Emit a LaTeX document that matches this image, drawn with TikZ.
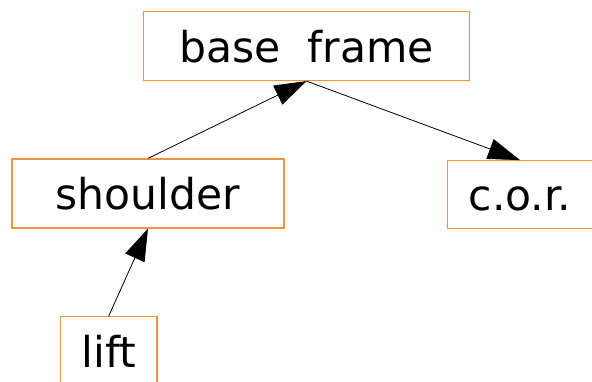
\documentclass[tikz,border=0pt]{standalone}
\usepackage{fontspec}
\setmainfont{DejaVu Sans}
\usetikzlibrary{arrows.meta}
\definecolor{boxline}{RGB}{242,146,62}
\tikzset{frm/.style={draw=boxline,line width=1.2pt,minimum height=69pt,inner sep=0pt,
    text height=32.3pt,text depth=0pt,font=\fontsize{42.5}{50}\selectfont},
  lnk/.style={-{Triangle[length=32pt,width=21pt]},line width=0.8pt}}

\begin{document}
\begin{tikzpicture}[x=1pt,y=-1pt]
\useasboundingbox (0,0) rectangle (592,382);
\node[frm,minimum width=326pt] (base) at (306.5,46) {base\ \ frame};
\node[frm,minimum width=272pt] (shoulder) at (148,193.5) {shoulder};
\node[frm,minimum width=145pt,minimum height=68pt] (cor) at (520,194.7) {c.o.r.};
\node[frm,minimum width=96.6pt] (lift) at (108.7,351.2) {lift};
 \draw[lnk] (shoulder.north) -- (base.south);
 \draw[lnk] (base.south) -- (cor.north);
 \draw[lnk] (lift.north) -- (shoulder.south);
%  \draw[lnk,dashed] (lift.north) -- (base.south);
\end{tikzpicture}
\end{document}
